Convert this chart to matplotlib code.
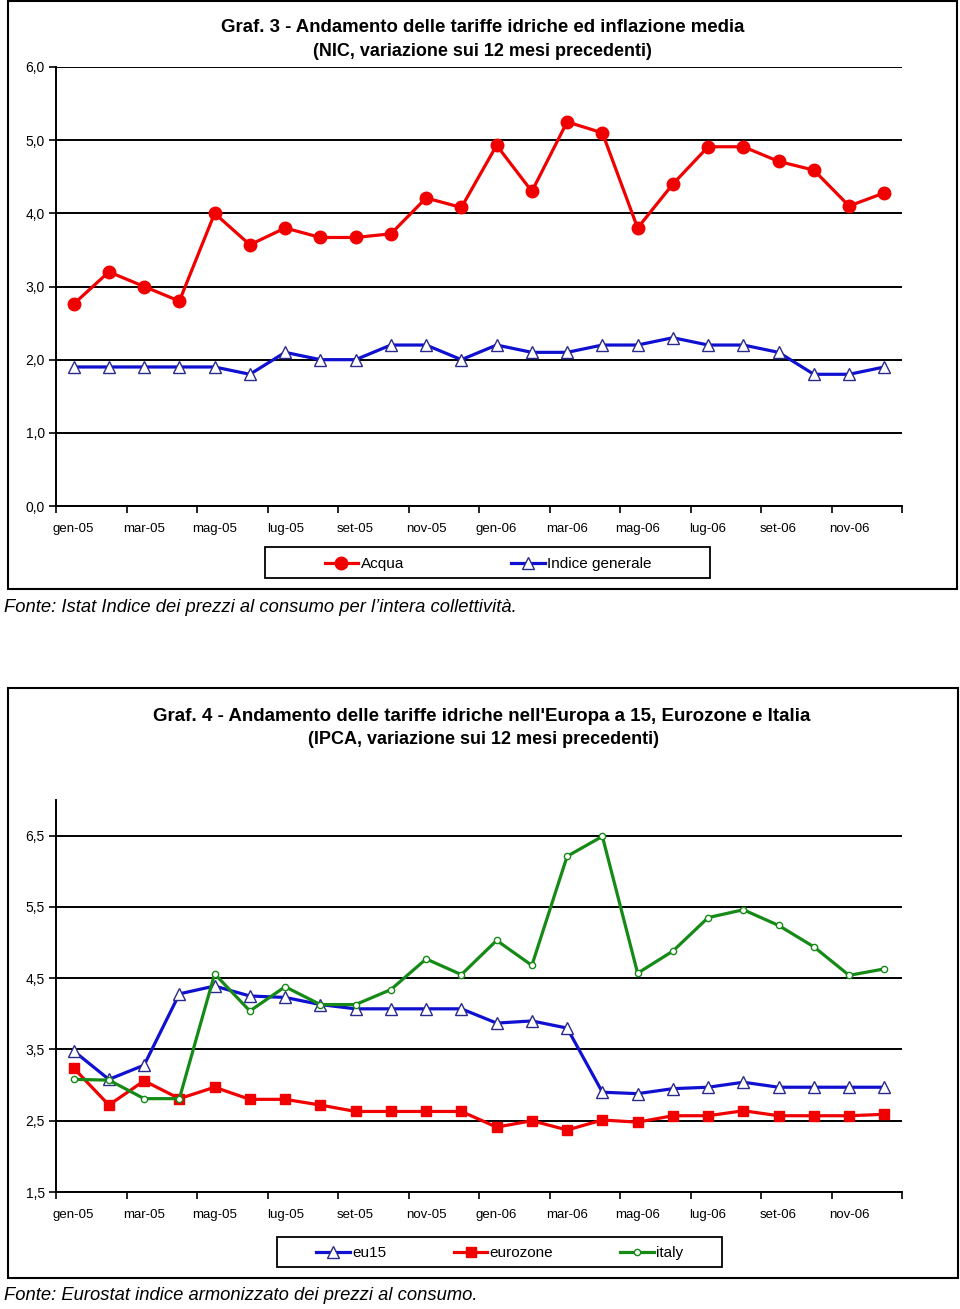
import matplotlib
matplotlib.use('Agg')
import matplotlib.pyplot as plt
import numpy as np
from matplotlib.patches import Rectangle

plt.rcParams['font.family'] = ['Liberation Sans', 'DejaVu Sans']

# ---------------- data ----------------
months = ['gen-05', 'feb-05', 'mar-05', 'apr-05', 'mag-05', 'giu-05',
          'lug-05', 'ago-05', 'set-05', 'ott-05', 'nov-05', 'dic-05',
          'gen-06', 'feb-06', 'mar-06', 'apr-06', 'mag-06', 'giu-06',
          'lug-06', 'ago-06', 'set-06', 'ott-06', 'nov-06', 'dic-06']

# Graf. 3 (NIC)
acqua = [2.76, 3.2, 3.0, 2.8, 4.0, 3.57, 3.8, 3.67, 3.67, 3.72, 4.21, 4.08,
         4.93, 4.3, 5.25, 5.1, 3.8, 4.4, 4.91, 4.91, 4.71, 4.59, 4.1, 4.28]
indice_generale = [1.9, 1.9, 1.9, 1.9, 1.9, 1.8, 2.1, 2.0, 2.0, 2.2, 2.2, 2.0,
                   2.2, 2.1, 2.1, 2.2, 2.2, 2.3, 2.2, 2.2, 2.1, 1.8, 1.8, 1.9]

# Graf. 4 (IPCA)
eu15 = [3.48, 3.08, 3.28, 4.28, 4.39, 4.25, 4.23, 4.13, 4.07, 4.07, 4.07, 4.07,
        3.87, 3.9, 3.8, 2.9, 2.88, 2.95, 2.97, 3.04, 2.97, 2.97, 2.97, 2.97]
eurozone = [3.24, 2.72, 3.06, 2.81, 2.97, 2.8, 2.8, 2.72, 2.63, 2.63, 2.63, 2.63,
            2.41, 2.5, 2.37, 2.51, 2.48, 2.57, 2.57, 2.64, 2.57, 2.57, 2.57, 2.59]
italy = [3.08, 3.07, 2.81, 2.81, 4.56, 4.04, 4.38, 4.13, 4.13, 4.34, 4.77, 4.55,
         5.03, 4.68, 6.21, 6.49, 4.57, 4.88, 5.35, 5.46, 5.24, 4.94, 4.54, 4.63]

top_yticks = [0.0, 1.0, 2.0, 3.0, 4.0, 5.0, 6.0]
bot_yticks = [1.5, 2.5, 3.5, 4.5, 5.5, 6.5]

RED = '#f00000'
BLUE = '#1010d0'
GREEN = '#168a16'
NAVY = '#2a2a8c'

W, H = 960, 1309
fig = plt.figure(figsize=(W / 100, H / 100), dpi=100)


def fx(x):
    return x / W


def fy(y):
    return 1 - y / H


def rect(x0, y0, x1, y1):
    return [fx(x0), fy(y1), (x1 - x0) / W, (y1 - y0) / H]


def frame(x0, y0, x1, y1, lw=1.5):
    fig.add_artist(Rectangle((fx(x0), fy(y1)), (x1 - x0) / W, (y1 - y0) / H,
                             transform=fig.transFigure, fill=False,
                             lw=lw, ec='black'))


def style_axes(ax, ylim, yticks):
    n = len(months)
    ax.set_xlim(-0.5, n - 0.5)
    ax.set_ylim(*ylim)
    for s in ['top', 'right']:
        ax.spines[s].set_visible(False)
    for s in ['left', 'bottom']:
        ax.spines[s].set_linewidth(1.4)
    ax.set_yticks(yticks)
    ax.set_yticklabels([f"{v:.1f}".replace('.', ',') for v in yticks])
    ax.yaxis.grid(True, color='black', lw=1.4)
    ax.set_axisbelow(True)
    ax.tick_params(axis='y', length=5, width=1.2, direction='out',
                   labelsize=10, pad=3)
    ax.set_xticks(np.arange(-0.5, n, 2))
    ax.set_xticklabels([])
    ax.set_xticks(np.arange(0, n, 2), minor=True)
    ax.set_xticklabels(months[::2], minor=True)
    ax.tick_params(axis='x', which='major', length=5, width=1.2, direction='out')
    ax.tick_params(axis='x', which='minor', length=0, labelsize=9.5, pad=12)


x = np.arange(len(months))

# ---------------- Graf. 3 ----------------
frame(8, 1, 957, 589)
fig.text(fx(483), fy(28), 'Graf. 3 - Andamento delle tariffe idriche ed inflazione media',
         ha='center', va='center', fontsize=13.4, fontweight='bold')
fig.text(fx(482), fy(51), '(NIC, variazione sui 12 mesi precedenti)',
         ha='center', va='center', fontsize=13, fontweight='bold')

ax1 = fig.add_axes(rect(56, 67, 902, 506))
style_axes(ax1, (0, 6.0), top_yticks)
ax1.plot(x, acqua, color=RED, lw=2.3, marker='o', ms=9, mfc=RED, mec=RED,
         label='Acqua', clip_on=False, zorder=3)
ax1.plot(x, indice_generale, color=BLUE, lw=2.3, marker='^', ms=8.5,
         mfc='white', mec=NAVY, mew=1.0, label='Indice generale',
         clip_on=False, zorder=3)

frame(265, 547, 710, 578, lw=1.3)
ax1.legend(loc='center', bbox_to_anchor=(fx(488), fy(564)),
           bbox_transform=fig.transFigure, ncol=2, frameon=False,
           fontsize=11, handlelength=2.2, handletextpad=0.15,
           columnspacing=7.0, borderpad=0)

fig.text(fx(4), fy(607),
         "Fonte: Istat Indice dei prezzi al consumo per l\u2019intera collettivit\u00e0.",
         ha='left', va='center', fontsize=13.2, style='italic')

# ---------------- Graf. 4 ----------------
frame(8, 688, 958, 1278)
fig.text(fx(482), fy(716),
         "Graf. 4 - Andamento delle tariffe idriche nell'Europa a 15, Eurozone e Italia",
         ha='center', va='center', fontsize=13.5, fontweight='bold')
fig.text(fx(483), fy(740), '(IPCA, variazione sui 12 mesi precedenti)',
         ha='center', va='center', fontsize=13, fontweight='bold')

ax2 = fig.add_axes(rect(56, 800, 902, 1192))
style_axes(ax2, (1.5, 7.0), bot_yticks)
ax2.plot(x, eu15, color=BLUE, lw=2.3, marker='^', ms=8.5, mfc='white',
         mec=NAVY, mew=1.0, label='eu15', zorder=3)
ax2.plot(x, eurozone, color=RED, lw=2.3, marker='s', ms=7, mfc=RED, mec=RED,
         label='eurozone', zorder=3)
ax2.plot(x, italy, color=GREEN, lw=2.3, marker='o', ms=4.5, mfc='white',
         mec=GREEN, mew=1.0, label='italy', zorder=3)

frame(277, 1237, 722, 1267, lw=1.3)
ax2.legend(loc='center', bbox_to_anchor=(fx(500), fy(1253)),
           bbox_transform=fig.transFigure, ncol=3, frameon=False,
           fontsize=11, handlelength=2.2, handletextpad=0.15,
           columnspacing=4.4, borderpad=0)

fig.text(fx(4), fy(1296),
         'Fonte: Eurostat indice armonizzato dei prezzi al consumo.',
         ha='left', va='center', fontsize=13.2, style='italic')

fig.savefig('out.png', dpi=100, facecolor='white')
